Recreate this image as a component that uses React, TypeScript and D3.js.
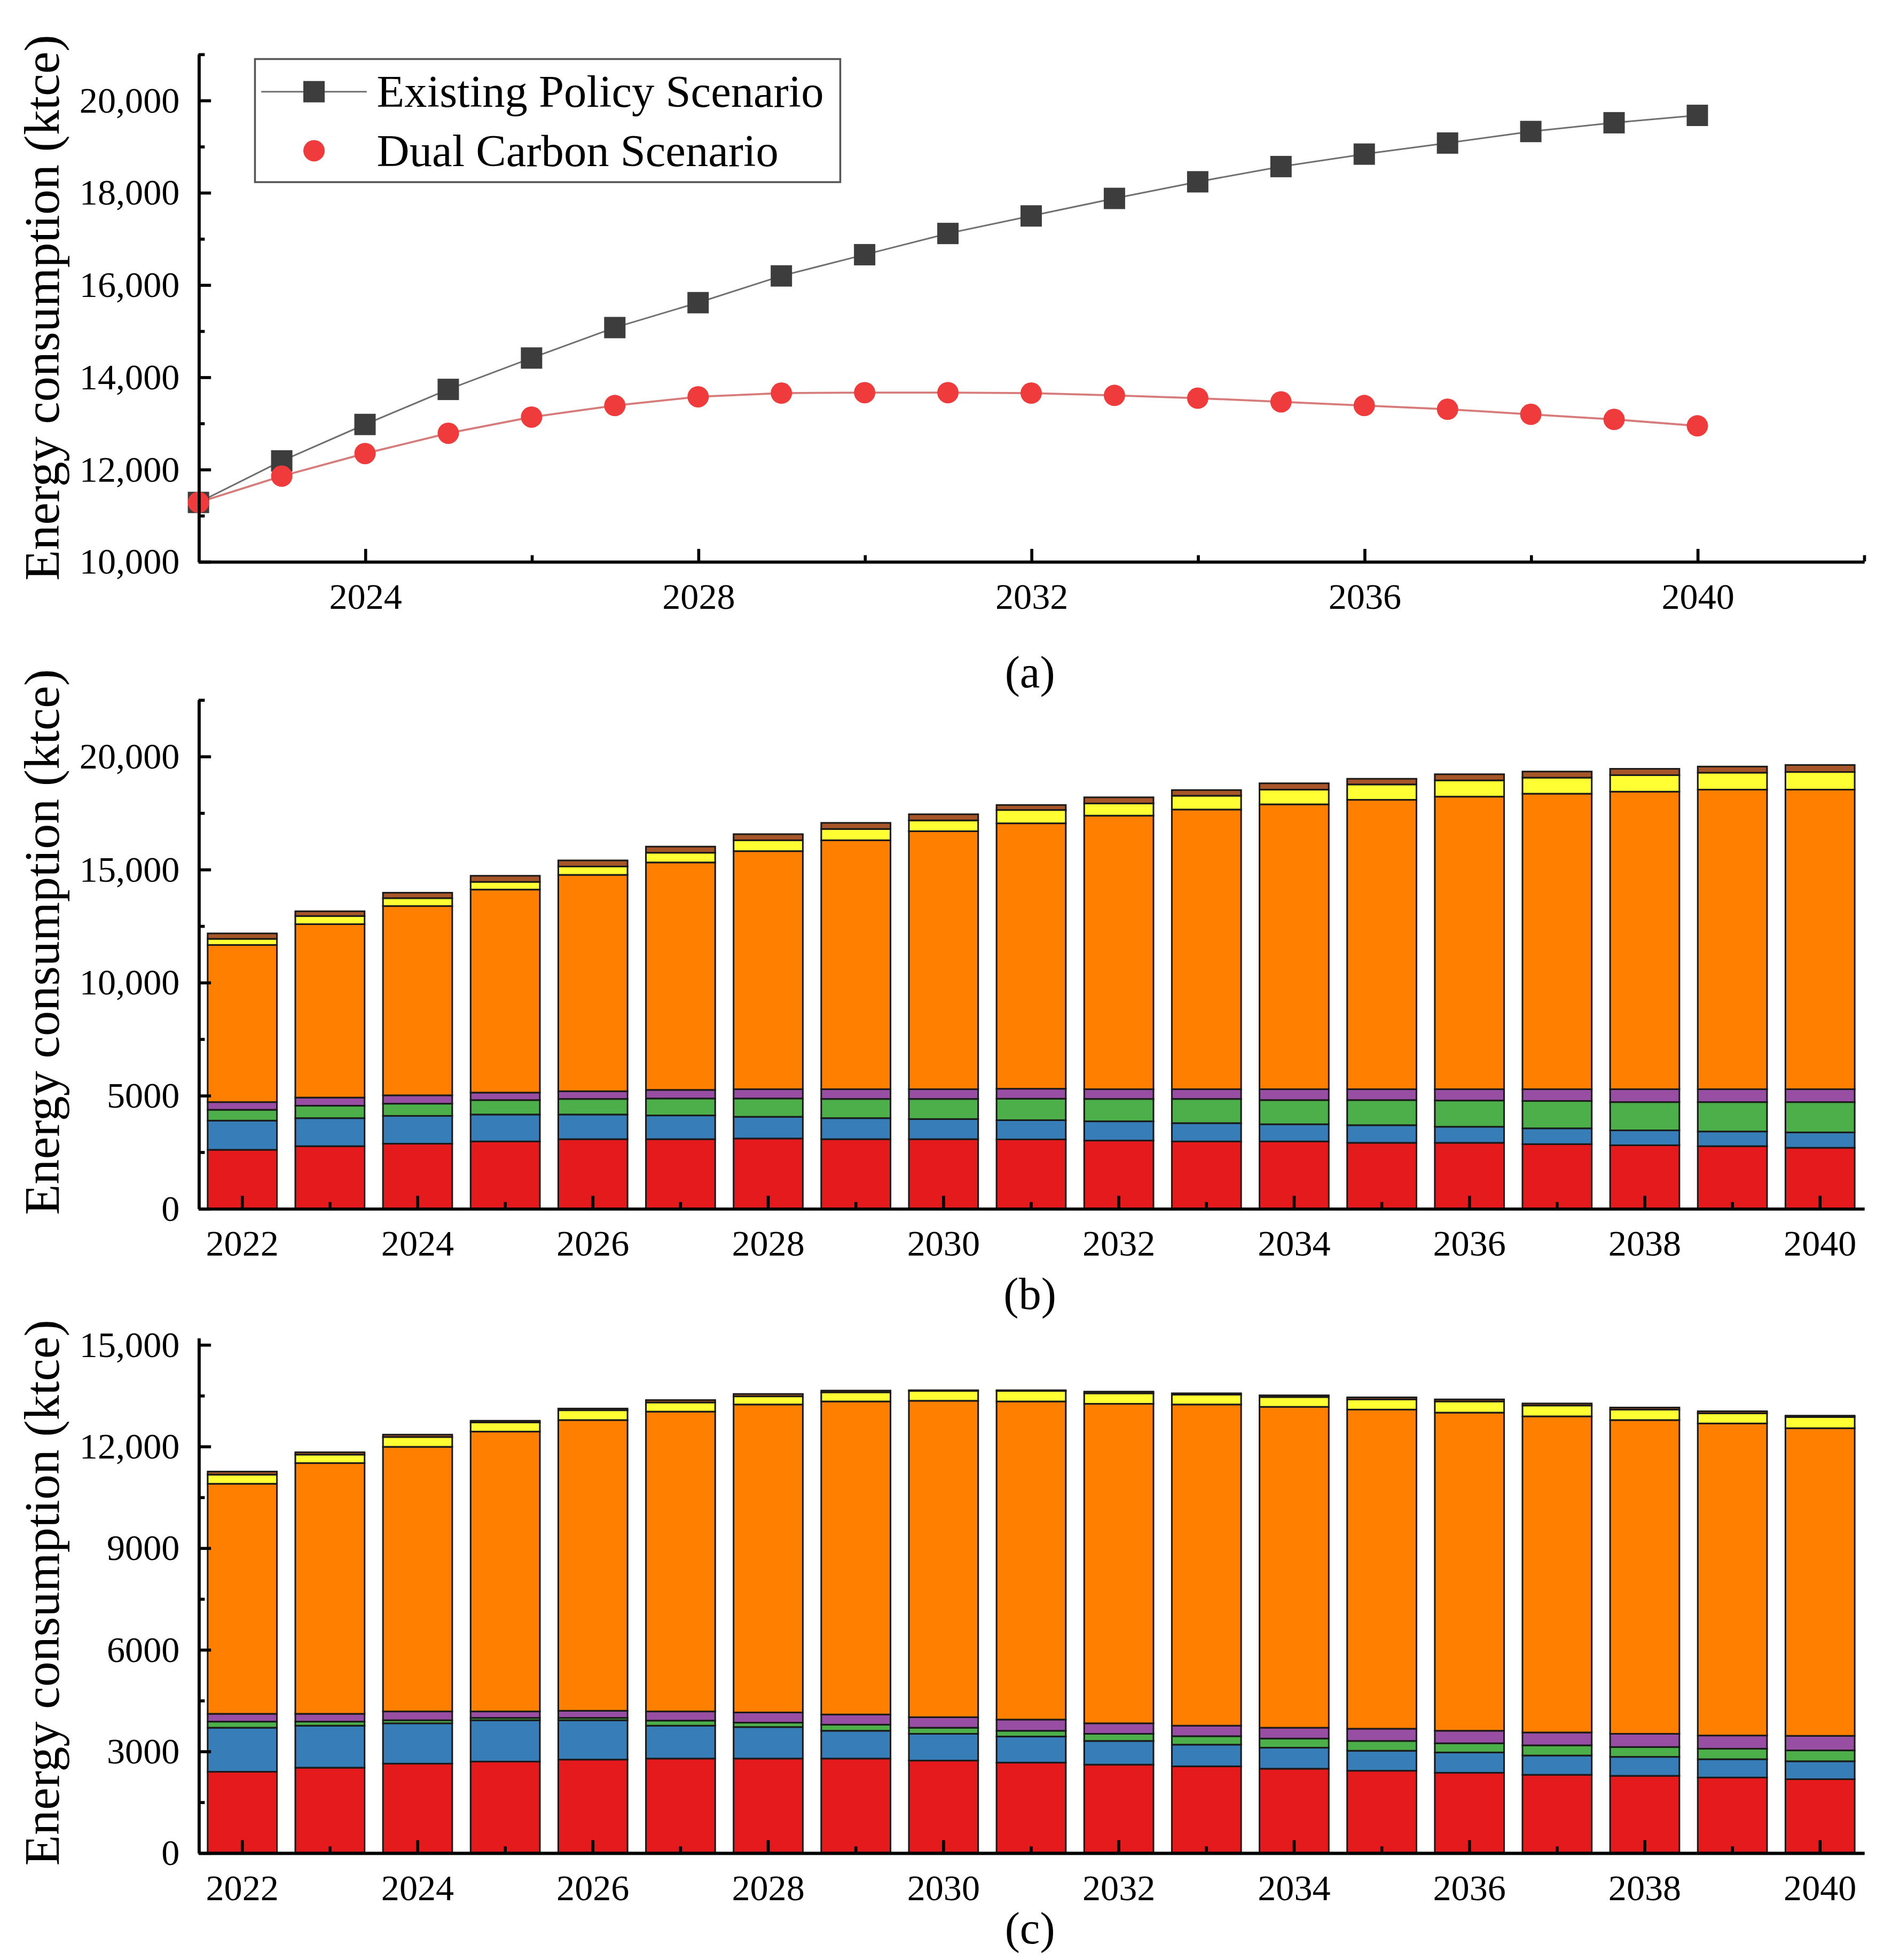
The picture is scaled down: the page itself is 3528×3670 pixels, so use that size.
import {useEffect, useRef} from 'react'
import * as d3 from 'd3'

// page is 3528 x 3670, drawn in a 1500-wide coordinate space
const VW = 1500
const VH = 1560.4
const FONT = '"Liberation Serif", "Times New Roman", serif'
const AX_L = 158
const AX_R = 1484

const years = [2022, 2023, 2024, 2025, 2026, 2027, 2028, 2029, 2030, 2031, 2032, 2033, 2034, 2035, 2036, 2037, 2038, 2039, 2040]

// panel (a)
const existingPolicy = [11280, 12180, 12970, 13730, 14410, 15070, 15610, 16190, 16650, 17110, 17490, 17870, 18230, 18560, 18830, 19070, 19320, 19510, 19670]
const dualCarbon = [11280, 11850, 12340, 12780, 13130, 13380, 13570, 13650, 13660, 13660, 13650, 13600, 13540, 13460, 13380, 13300, 13190, 13080, 12940]

// panel (b), stacked from the bottom (red, blue, green, purple, orange, yellow, brown)
const bRed = [2590, 2750, 2860, 2960, 3060, 3060, 3090, 3060, 3060, 3050, 3000, 2960, 2960, 2900, 2900, 2840, 2790, 2750, 2680]
const bBlue = [1290, 1240, 1230, 1190, 1090, 1050, 960, 930, 890, 850, 850, 810, 760, 780, 710, 700, 660, 650, 680]
const bGreen = [480, 550, 540, 640, 690, 750, 810, 850, 890, 950, 990, 1070, 1070, 1110, 1160, 1210, 1250, 1300, 1340]
const bPurple = [340, 360, 370, 330, 340, 380, 410, 430, 430, 440, 430, 430, 480, 480, 500, 520, 570, 570, 570]
const bOrange = [6950, 7670, 8370, 8980, 9570, 10060, 10530, 11010, 11410, 11740, 12100, 12370, 12600, 12800, 12940, 13070, 13160, 13250, 13250]
const bYellow = [270, 360, 350, 340, 370, 430, 480, 500, 480, 590, 540, 610, 650, 680, 720, 710, 730, 750, 780]
const bBrown = [240, 210, 240, 270, 270, 270, 270, 270, 270, 220, 270, 250, 280, 250, 270, 270, 280, 270, 310]

// panel (c)
const cRed = [2390, 2510, 2630, 2690, 2750, 2780, 2780, 2780, 2720, 2660, 2600, 2550, 2480, 2420, 2360, 2300, 2270, 2220, 2170]
const cBlue = [1300, 1240, 1190, 1220, 1160, 970, 930, 820, 790, 770, 700, 640, 620, 590, 600, 570, 560, 540, 530]
const cGreen = [180, 120, 90, 70, 70, 150, 130, 180, 180, 170, 210, 250, 270, 290, 270, 300, 290, 310, 320]
const cPurple = [230, 230, 260, 190, 210, 270, 300, 300, 310, 330, 310, 310, 320, 360, 370, 380, 390, 390, 430]
const cOrange = [6790, 7400, 7810, 8260, 8580, 8850, 9090, 9240, 9340, 9390, 9430, 9480, 9470, 9420, 9390, 9330, 9260, 9210, 9080]
const cYellow = [270, 250, 290, 270, 290, 270, 240, 270, 290, 310, 310, 290, 290, 300, 330, 320, 310, 300, 330]
const cBrown = [90, 70, 70, 50, 50, 70, 70, 50, 20, 20, 50, 40, 50, 60, 60, 60, 60, 60, 40]

const layerKeys = ['red', 'blue', 'green', 'purple', 'orange', 'yellow', 'brown']
const layerColors = d3.schemeSet1.slice(0, 7)

const aYMajor = [10000, 12000, 14000, 16000, 18000, 20000]
const aYMinor = [11000, 13000, 15000, 17000, 19000, 21000]
const aXMajor = [2024, 2028, 2032, 2036, 2040]
const aXMinor = [2026, 2030, 2034, 2038, 2042]
const bYMajor = [0, 5000, 10000, 15000, 20000]
const bYMinor = [2500, 7500, 12500, 17500, 22500]
const cYMajor = [0, 3000, 6000, 9000, 12000, 15000]
const cYMinor = [1500, 4500, 7500, 10500, 13500]
const barLabelYears = [2022, 2024, 2026, 2028, 2030, 2032, 2034, 2036, 2038, 2040]
const barMinorYears = [2023, 2025, 2027, 2029, 2031, 2033, 2035, 2037, 2039]

const fmtBig = (v: number) => (v >= 10000 ? d3.format(',')(v) : String(v))

const toRows = (arrs: number[][]) =>
  years.map((y, i) => {
    const row: any = {year: y}
    layerKeys.forEach((k, j) => (row[k] = arrs[j][i]))
    return row
  })

const styleAxis = (sel: any) => {
  sel.selectAll('path, line').attr('stroke', '#000').attr('stroke-width', 2.4)
  sel.selectAll('text').attr('fill', '#000').attr('font-family', FONT).attr('font-size', 29)
}

const drawLeft = (node: any, scale: any, major: number[], minor: number[], fmt: any) => {
  const g = d3.select(node)
  g.selectAll('*').remove()
  g.append('g').call(d3.axisLeft(scale).tickValues(minor).tickSizeInner(-5).tickSizeOuter(0).tickFormat(() => ''))
  g.append('g').call(d3.axisLeft(scale).tickValues(major).tickSizeInner(-10).tickSizeOuter(0).tickPadding(15).tickFormat(fmt))
  styleAxis(g)
}

const drawBottom = (node: any, scale: any, major: any[], minor: any[]) => {
  const g = d3.select(node)
  g.selectAll('*').remove()
  g.append('g').call(d3.axisBottom(scale).tickValues(minor).tickSizeInner(-5).tickSizeOuter(0).tickFormat(() => ''))
  g.append('g').call(d3.axisBottom(scale).tickValues(major).tickSizeInner(-10).tickSizeOuter(0).tickPadding(17).tickFormat((d: any) => String(d)))
  styleAxis(g)
}

type StackProps = {rows: any[]; top: number; bottom: number; max: number; yMajor: number[]; yMinor: number[]}

const StackedPanel = ({rows, top, bottom, max, yMajor, yMinor}: StackProps) => {
  const xRef = useRef(null)
  const yRef = useRef(null)
  const x = d3.scaleBand<number>().domain(years).range([AX_L, AX_R]).paddingInner(0.21).paddingOuter(0.105)
  const y = d3.scaleLinear().domain([0, max]).range([bottom, top])
  const series = d3.stack().keys(layerKeys)(rows)

  useEffect(() => {
    drawBottom(xRef.current, x, barLabelYears, barMinorYears)
    drawLeft(yRef.current, y, yMajor, yMinor, fmtBig)
  })

  return (
    <g>
      {series.map((s, i) => (
        <g key={s.key}>
          {s.map((d: any, j: number) => (
            <rect
              key={j}
              x={x(d.data.year)}
              y={y(d[1])}
              width={x.bandwidth()}
              height={y(d[0]) - y(d[1])}
              fill={layerColors[i]}
              stroke="#1a1a1a"
              strokeWidth={1.3}
            />
          ))}
        </g>
      ))}
      <g ref={xRef} transform={`translate(0,${bottom})`} />
      <g ref={yRef} transform={`translate(${AX_L},0)`} />
    </g>
  )
}

const LinePanel = () => {
  const xRef = useRef(null)
  const yRef = useRef(null)
  const top = 43
  const bottom = 447
  const x = d3.scaleLinear().domain([2022, 2042]).range([AX_L, AX_R])
  const y = d3.scaleLinear().domain([10000, 21000]).range([bottom, top])
  const line = d3.line<number>().x((_, i) => x(years[i])).y(d => y(d))

  useEffect(() => {
    drawBottom(xRef.current, x, aXMajor, aXMinor)
    drawLeft(yRef.current, y, aYMajor, aYMinor, d3.format(','))
  })

  return (
    <g>
      <path d={line(existingPolicy) || ''} fill="none" stroke="#707070" strokeWidth={1.3} />
      <path d={line(dualCarbon) || ''} fill="none" stroke="#d77a7a" strokeWidth={1.6} />
      {existingPolicy.map((v, i) => (
        <rect key={'e' + i} x={x(years[i]) - 8.5} y={y(v) - 8.5} width={17} height={17} fill="#3d3d3d" />
      ))}
      {dualCarbon.map((v, i) => (
        <circle key={'d' + i} cx={x(years[i])} cy={y(v)} r={8.5} fill="#ef3b3b" />
      ))}
      <g ref={xRef} transform={`translate(0,${bottom})`} />
      <g ref={yRef} transform={`translate(${AX_L},0)`} />
      <rect x={203} y={47} width={466} height={98} fill="#fff" stroke="#555" strokeWidth={1.5} />
      <line x1={208} x2={292} y1={73} y2={73} stroke="#707070" strokeWidth={1.3} />
      <rect x={241.5} y={64.5} width={17} height={17} fill="#3d3d3d" />
      <text x={300} y={73} dominantBaseline="central" fontFamily={FONT} fontSize={36}>Existing Policy Scenario</text>
      <circle cx={250} cy={120} r={8.5} fill="#ef3b3b" />
      <text x={300} y={120} dominantBaseline="central" fontFamily={FONT} fontSize={36}>Dual Carbon Scenario</text>
    </g>
  )
}

const YLabel = ({cy}: {cy: number}) => (
  <text
    transform={`translate(33,${cy}) rotate(-90)`}
    textAnchor="middle"
    dominantBaseline="central"
    fontFamily={FONT}
    fontSize={40}
    fill="#000">
    Energy consumption (ktce)
  </text>
)

const Caption = ({cy, label}: {cy: number; label: string}) => (
  <text x={820} y={cy} textAnchor="middle" dominantBaseline="central" fontFamily={FONT} fontSize={36} fill="#000">
    {label}
  </text>
)

export default function App() {
  const rowsB = toRows([bRed, bBlue, bGreen, bPurple, bOrange, bYellow, bBrown])
  const rowsC = toRows([cRed, cBlue, cGreen, cPurple, cOrange, cYellow, cBrown])
  return (
    <svg
      width={3528}
      height={3670}
      viewBox={`0 0 ${VW} ${VH}`}
      style={{position: 'absolute', left: 0, top: 0, background: '#fff'}}>
      <rect x={0} y={0} width={VW} height={VH} fill="#fff" />
      <LinePanel />
      <YLabel cy={245} />
      <Caption cy={535} label="(a)" />
      <StackedPanel rows={rowsB} top={557} bottom={962} max={22500} yMajor={bYMajor} yMinor={bYMinor} />
      <YLabel cy={750} />
      <Caption cy={1030} label="(b)" />
      <StackedPanel rows={rowsC} top={1065} bottom={1475} max={15200} yMajor={cYMajor} yMinor={cYMinor} />
      <YLabel cy={1268} />
      <Caption cy={1535} label="(c)" />
    </svg>
  )
}
